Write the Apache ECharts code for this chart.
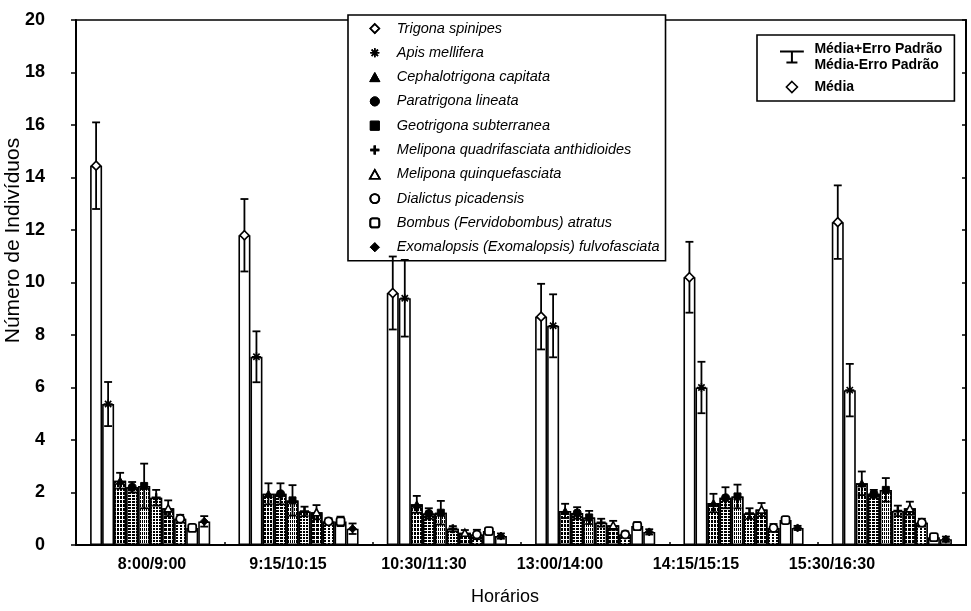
<!DOCTYPE html>
<html><head><meta charset="utf-8">
<script src="https://cdn.jsdelivr.net/npm/echarts@6/dist/echarts.min.js"></script>
<style>html,body{margin:0;padding:0;background:#fff}#c{width:971px;height:611px}</style>
</head><body><div id="c"></div>
<script>
// ---------- DATA ----------
const categories = ['8:00/9:00', '9:15/10:15', '10:30/11:30', '13:00/14:00', '14:15/15:15', '15:30/16:30'];
const species = ['Trigona spinipes', 'Apis mellifera', 'Cephalotrigona capitata', 'Paratrigona lineata',
  'Geotrigona subterranea', 'Melipona quadrifasciata anthidioides', 'Melipona quinquefasciata',
  'Dialictus picadensis', 'Bombus (Fervidobombus) atratus', 'Exomalopsis (Exomalopsis) fulvofasciata'];
const errLegendName = 'Média+Erro Padrão\nMédia-Erro Padrão';
const meanLegendName = 'Média';

const meanTrigona = [14.45, 11.8, 9.6, 8.7, 10.2, 12.3];
const seTrigona = [1.65, 1.38, 1.39, 1.25, 1.35, 1.4];
const meanApis = [5.37, 7.17, 9.4, 8.35, 6.0, 5.9];
const seApis = [0.84, 0.97, 1.46, 1.2, 0.98, 1.0];
const meanCephalotrigona = [2.45, 1.95, 1.55, 1.3, 1.6, 2.35];
const seCephalotrigona = [0.3, 0.4, 0.32, 0.27, 0.35, 0.45];
const meanParatrigona = [2.2, 1.95, 1.2, 1.22, 1.8, 1.95];
const seParatrigona = [0.2, 0.4, 0.2, 0.22, 0.4, 0.15];
const meanGeotrigona = [2.25, 1.7, 1.23, 1.05, 1.85, 2.1];
const seGeotrigona = [0.85, 0.58, 0.45, 0.25, 0.45, 0.45];
const meanMQAnthidioides = [1.8, 1.28, 0.62, 0.85, 1.2, 1.3];
const seMQAnthidioides = [0.3, 0.18, 0.1, 0.15, 0.2, 0.2];
const meanMQuinquefasciata = [1.4, 1.25, 0.47, 0.75, 1.35, 1.4];
const seMQuinquefasciata = [0.3, 0.27, 0.1, 0.17, 0.25, 0.25];
const meanDialictus = [1.0, 0.9, 0.4, 0.4, 0.65, 0.85];
const seDialictus = [0.15, 0.12, 0.18, 0.12, 0.15, 0.15];
const meanBombus = [0.65, 0.9, 0.53, 0.72, 0.95, 0.3];
const seBombus = [0.1, 0.18, 0.12, 0.15, 0.1, 0.1];
const meanExomalopsis = [0.9, 0.62, 0.34, 0.5, 0.65, 0.22];
const seExomalopsis = [0.2, 0.2, 0.1, 0.1, 0.08, 0.1];

const means = [meanTrigona, meanApis, meanCephalotrigona, meanParatrigona, meanGeotrigona,
  meanMQAnthidioides, meanMQuinquefasciata, meanDialictus, meanBombus, meanExomalopsis];
const ses = [seTrigona, seApis, seCephalotrigona, seParatrigona, seGeotrigona,
  seMQAnthidioides, seMQuinquefasciata, seDialictus, seBombus, seExomalopsis];

// ---------- STYLE ----------
const FONT = 'Liberation Sans, Arial, sans-serif';
const P = {
  diamond: 'M5,0L10,5L5,10L0,5Z',
  star: 'M5,0V10M0,5H10M1.5,1.5L8.5,8.5M8.5,1.5L1.5,8.5',
  tri: 'M5,0L10,9L0,9Z',
  circle: 'M5,0A5,5,0,1,1,4.99,0Z',
  square: 'M0,0H10V10H0Z',
  plus: 'M5,0V10M0,5H10',
  rsquare: 'M2.5,0H7.5Q10,0,10,2.5V7.5Q10,10,7.5,10H2.5Q0,10,0,7.5V2.5Q0,0,2.5,0Z',
  errbar: 'M0,0H26M13,0V12M7,12H19'
};
const markers = [
  {p: P.diamond, fill: '#fff', stroke: '#000', lw: 1.6, s: 9},
  {p: P.star, fill: 'none', stroke: '#000', lw: 1.6, s: 9},
  {p: P.tri, fill: '#000', stroke: '#000', lw: 1, s: 8},
  {p: P.circle, fill: '#000', stroke: '#000', lw: 1, s: 8},
  {p: P.square, fill: '#000', stroke: '#000', lw: 1, s: 7},
  {p: P.plus, fill: 'none', stroke: '#000', lw: 2.4, s: 9},
  {p: P.tri, fill: '#fff', stroke: '#000', lw: 1.6, s: 8},
  {p: P.circle, fill: '#fff', stroke: '#000', lw: 1.8, s: 8},
  {p: P.rsquare, fill: '#fff', stroke: '#000', lw: 1.8, s: 8},
  {p: P.diamond, fill: '#000', stroke: '#000', lw: 1, s: 8}
];
const decals = [
  null, null,
  {symbol: 'rect', symbolSize: 1, color: '#000', backgroundColor: '#fff', dashArrayX: [2, 1], dashArrayY: [3, 1]},
  {symbol: 'rect', symbolSize: 1, color: '#000', backgroundColor: '#fff', dashArrayX: [3, 1], dashArrayY: [2, 1]},
  {symbol: 'rect', symbolSize: 1, color: '#000', backgroundColor: '#fff', dashArrayX: [1, 1], dashArrayY: [3, 1]},
  {symbol: 'rect', symbolSize: 1, color: '#000', backgroundColor: '#fff', dashArrayX: [2, 1], dashArrayY: [2, 1]},
  {symbol: 'rect', symbolSize: 1, color: '#000', backgroundColor: '#fff', dashArrayX: [3, 1], dashArrayY: [3, 1]},
  {symbol: 'rect', symbolSize: 1, color: '#000', backgroundColor: '#fff', dashArrayX: [2, 2], dashArrayY: [2, 1]},
  null, null
];
const N = species.length;
const GAP = 0.19;

function makeRender(si) {
  const mk = markers[si];
  return function (params, api) {
    const ci = api.value(0), m = api.value(1), se = api.value(2);
    const band = api.size([1, 0])[0];
    const gw = band * (1 - GAP);
    const bw = gw / N;
    const cx = api.coord([ci, 0])[0] - gw / 2 + (si + 0.5) * bw;
    const yM = api.coord([ci, m])[1];
    const yH = api.coord([ci, m + se])[1];
    const yL = api.coord([ci, Math.max(0, m - se)])[1];
    const cap = bw * 0.33;
    const st = {stroke: '#000', lineWidth: 1.8, fill: null};
    const h = mk.s / 2;
    return {
      type: 'group',
      children: [
        {type: 'line', shape: {x1: cx, y1: yH, x2: cx, y2: yL}, style: st},
        {type: 'line', shape: {x1: cx - cap, y1: yH, x2: cx + cap, y2: yH}, style: st},
        {type: 'line', shape: {x1: cx - cap, y1: yL, x2: cx + cap, y2: yL}, style: st},
        {type: 'path', shape: {pathData: mk.p, x: cx - h, y: yM - h, width: mk.s, height: mk.s, layout: 'center'},
          style: {fill: mk.fill, stroke: mk.stroke, lineWidth: mk.lw}}
      ]
    };
  };
}

const series = [];
species.forEach(function (name, si) {
  const bar = {
    type: 'bar', name: name, xAxisIndex: 0, yAxisIndex: 0,
    data: means[si],
    barGap: '0%', barCategoryGap: (GAP * 100) + '%',
    itemStyle: {color: '#fff', borderColor: '#000', borderWidth: 1.6},
    emphasis: {disabled: true}, silent: true, z: 2
  };
  if (decals[si]) bar.itemStyle.decal = decals[si];
  series.push(bar);
});
species.forEach(function (name, si) {
  series.push({
    type: 'custom', name: name, xAxisIndex: 0, yAxisIndex: 0,
    data: means[si].map(function (m, i) { return [i, m, ses[si][i]]; }),
    encode: {x: 0, y: 1},
    renderItem: makeRender(si), silent: true, z: 5
  });
});
series.push({type: 'line', name: errLegendName, data: [], xAxisIndex: 0, yAxisIndex: 0});
series.push({type: 'line', name: meanLegendName, data: [], xAxisIndex: 0, yAxisIndex: 0});

const noDecal = {symbol: 'none', backgroundColor: 'rgba(0,0,0,0)', color: 'rgba(0,0,0,0)'};
const legendSpecies = species.map(function (name, si) {
  const mk = markers[si];
  return {
    name: name, icon: 'path://' + mk.p,
    itemStyle: {color: mk.fill === 'none' ? 'rgba(0,0,0,0)' : mk.fill, borderColor: '#000', borderWidth: mk.lw, decal: noDecal}
  };
});

const option = {
  animation: false,
  backgroundColor: '#fff',
  textStyle: {fontFamily: FONT, color: '#000'},
  grid: [
    {left: 76, right: 5, top: 20, bottom: 66, show: true, borderColor: '#000', borderWidth: 1.6,
      backgroundColor: 'transparent', containLabel: false, outerBoundsMode: 'none'},
    {left: 84, right: 71, top: 20, bottom: 66, containLabel: false, outerBoundsMode: 'none'}
  ],
  xAxis: [
    {type: 'category', gridIndex: 0, data: categories,
      axisLine: {lineStyle: {color: '#000', width: 2}},
      axisTick: {show: true, inside: true, length: 3, lineStyle: {color: '#000', width: 1.5}},
      axisLabel: {show: false},
      name: 'Horários', nameLocation: 'middle', nameGap: 43, nameMoveOverlap: false,
      nameTextStyle: {fontSize: 18, fontFamily: FONT, color: '#000', padding: [0, 32, 0, 0]}},
    {type: 'category', gridIndex: 1, data: categories,
      axisLine: {show: false}, axisTick: {show: false},
      axisLabel: {show: true, margin: 12, fontSize: 16, fontWeight: 'bold', fontFamily: FONT, color: '#000'}}
  ],
  yAxis: [
    {type: 'value', gridIndex: 0, min: 0, max: 20, interval: 2,
      axisLine: {show: true, lineStyle: {color: '#000', width: 2}},
      axisTick: {show: true, length: 5, lineStyle: {color: '#000', width: 1.5}},
      splitLine: {show: false},
      axisLabel: {margin: 31, fontSize: 18, fontWeight: 'bold', fontFamily: FONT, color: '#000'},
      name: 'Número de Indivíduos', nameLocation: 'middle', nameRotate: 90, nameGap: 52, nameMoveOverlap: false,
      nameTextStyle: {fontSize: 21, fontFamily: FONT, color: '#000', padding: [0, 0, 0, 84]}},
    {type: 'value', gridIndex: 0, position: 'right', min: 0, max: 20, interval: 2,
      axisLine: {show: true, lineStyle: {color: '#000', width: 2}},
      axisTick: {show: true, inside: true, length: 4, lineStyle: {color: '#000', width: 1.5}},
      splitLine: {show: false}, axisLabel: {show: false}},
    {type: 'value', gridIndex: 1, min: 0, max: 20, show: false}
  ],
  legend: [
    {orient: 'vertical', left: 348, top: 15,
      data: legendSpecies, selectedMode: false,
      itemWidth: 34, itemHeight: 9, itemGap: 9.3,
      padding: [6, 6, 6, 21],
      borderColor: '#000', borderWidth: 1.6, backgroundColor: '#fff',
      textStyle: {fontSize: 14.5, fontStyle: 'italic', fontFamily: FONT, color: '#000', lineHeight: 14}},
    {orient: 'vertical', left: 757, top: 35,
      data: [
        {name: errLegendName, icon: 'path://' + P.errbar, itemStyle: {color: '#000', borderColor: '#000', borderWidth: 2}},
        {name: meanLegendName, icon: 'path://' + P.diamond, itemStyle: {color: '#fff', borderColor: '#000', borderWidth: 1.6}}
      ],
      selectedMode: false,
      itemWidth: 35, itemHeight: 11, itemGap: 6,
      padding: [6, 12, 6, 22],
      borderColor: '#000', borderWidth: 1.6, backgroundColor: '#fff',
      textStyle: {fontSize: 14, fontWeight: 'bold', fontFamily: FONT, color: '#000', lineHeight: 16}}
  ],
  series: series
};

const chart = echarts.init(document.getElementById('c'), null, {renderer: 'canvas'});
chart.setOption(option);
</script>
</body></html>
